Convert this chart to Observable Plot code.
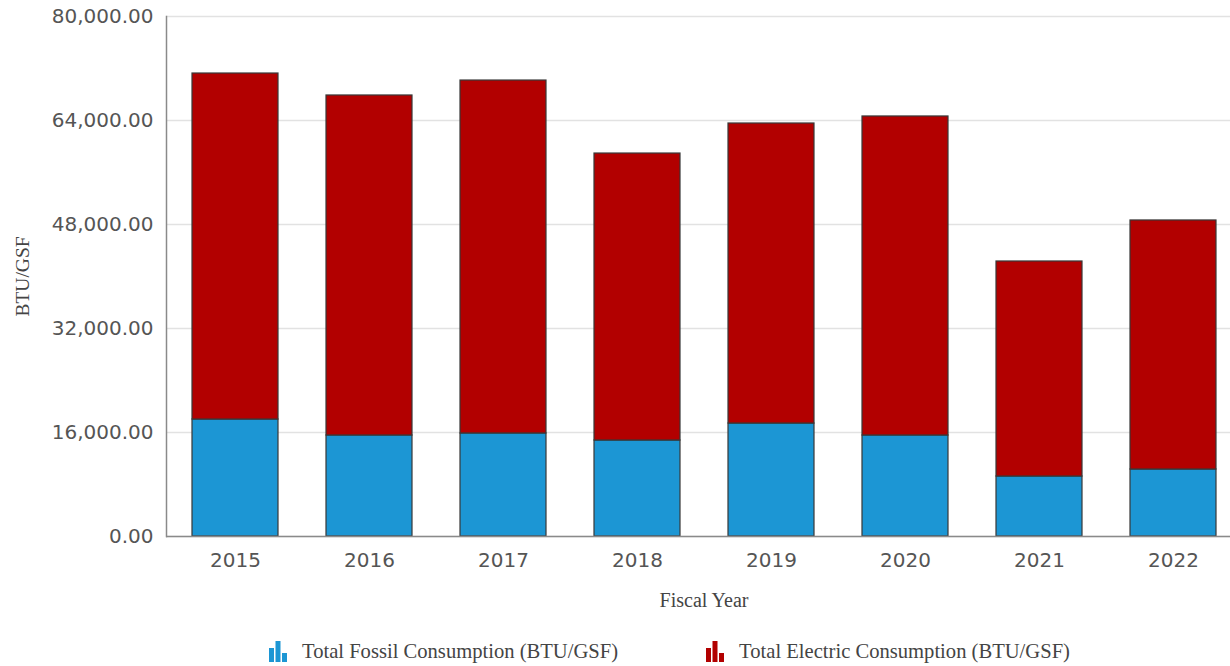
<!DOCTYPE html>
<html>
<head>
<meta charset="utf-8">
<script src="https://cdn.jsdelivr.net/npm/d3@7"></script>
<script src="https://cdn.jsdelivr.net/npm/@observablehq/plot@0.6"></script>
<style>
  html, body { margin: 0; padding: 0; background: #fff; overflow: hidden; width: 1230px; height: 666px; }
  #chart { position: absolute; left: 0; top: 0; }
  #legend { position: absolute; left: 269px; top: 640px; height: 22px; display: flex; align-items: center;
            font-family: "Liberation Serif", "Times New Roman", serif; font-size: 20.6px; color: #444; white-space: nowrap; }
  .item { display: flex; align-items: center; }
  .item svg { margin-right: 15px; }
</style>
</head>
<body>
<div id="chart"></div>
<div id="legend"></div>
<script>
const years = ["2015", "2016", "2017", "2018", "2019", "2020", "2021", "2022"];
const fossil = [18000, 15540, 15850, 14770, 17380, 15540, 9230, 10310];
const electric = [53230, 52310, 54300, 44150, 46160, 49080, 33080, 38310];
const seriesNames = ["Total Fossil Consumption (BTU/GSF)", "Total Electric Consumption (BTU/GSF)"];
const seriesColors = ["#1c96d4", "#b20000"];
const yTicks = [0, 16000, 32000, 48000, 64000, 80000];

const rows = [];
years.forEach((y, i) => {
  rows.push({year: y, series: seriesNames[0], value: fossil[i]});
  rows.push({year: y, series: seriesNames[1], value: electric[i]});
});

const chart = Plot.plot({
  width: 1241,
  height: 625,
  marginLeft: 166,
  marginRight: 0,
  marginTop: 16,
  marginBottom: 89,
  style: {maxWidth: "none", background: "#fff", overflow: "visible"},
  x: {domain: years, paddingInner: 0.36, paddingOuter: 0.18, label: null},
  y: {domain: [0, 80000], label: null},
  color: {domain: seriesNames, range: seriesColors},
  marks: [
    Plot.gridY(yTicks, {stroke: "#e2e2e2", strokeOpacity: 1, strokeWidth: 1.5}),
    Plot.barY(rows, {x: "year", y: "value", fill: "series", stroke: "#383838", strokeWidth: 1.2}),
    Plot.axisY(yTicks, {tickSize: 0, tickPadding: 13, tickFormat: d3.format(",.2f"), fontSize: 20,
      fontFamily: "DejaVu Sans, Verdana, sans-serif", fill: "#555", label: null}),
    Plot.axisX({tickSize: 0, tickPadding: 16, fontSize: 20, fontFamily: "DejaVu Sans, Verdana, sans-serif",
      fill: "#555", label: null}),
    Plot.frame({anchor: "left", stroke: "#8a8a8a", strokeWidth: 1.5}),
    Plot.ruleY([0], {stroke: "#8a8a8a", strokeWidth: 1.5}),
    Plot.text(["Fiscal Year"], {frameAnchor: "bottom", dy: 70, fontSize: 20,
      fontFamily: "Liberation Serif, Times New Roman, serif", fill: "#444"}),
    Plot.text(["BTU/GSF"], {frameAnchor: "left", textAnchor: "middle", dx: -144, rotate: -90, fontSize: 19.5,
      fontFamily: "Liberation Serif, Times New Roman, serif", fill: "#444"})
  ]
});
document.getElementById("chart").appendChild(chart);

const legend = document.getElementById("legend");
seriesNames.forEach((name, i) => {
  const item = document.createElement("div");
  item.className = "item";
  if (i > 0) item.style.marginLeft = "88px";
  const c = seriesColors[i];
  item.innerHTML = `<svg width="18" height="21" viewBox="0 0 18 21">
    <rect x="0" y="7" width="5" height="14" fill="${c}"/>
    <rect x="6.5" y="0" width="5" height="21" fill="${c}"/>
    <rect x="13" y="12" width="5" height="9" fill="${c}"/>
  </svg><span>${name}</span>`;
  legend.appendChild(item);
});
</script>
</body>
</html>
